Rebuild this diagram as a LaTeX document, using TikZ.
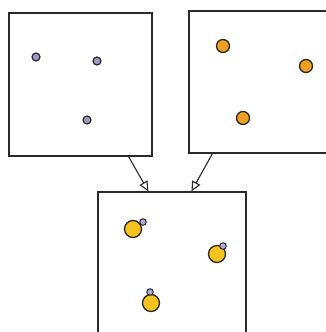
\documentclass[tikz,border=0pt]{standalone}
\usetikzlibrary{arrows.meta}
\definecolor{ink}{HTML}{2A2A2A}
\definecolor{bluedot}{HTML}{9A9AC8}
\definecolor{orangedot}{HTML}{F0A020}
\definecolor{yellowdot}{HTML}{F5C21E}
\tikzset{
  panel/.style={draw=ink, line width=1.2pt, fill=white, minimum width=#1, inner sep=0pt, rectangle},
  small/.style={circle, draw=ink, line width=1.2pt, fill=bluedot, minimum size=8pt, inner sep=0pt},
  big/.style={circle, draw=ink, line width=1.3pt, fill=orangedot, minimum size=13pt, inner sep=0pt},
  ball/.style={circle, draw=ink, line width=1.3pt, fill=yellowdot, minimum size=17pt, inner sep=0pt},
  tiny/.style={circle, draw=ink, line width=1pt, fill=bluedot!80, minimum size=6.5pt, inner sep=0pt},
  arr/.style={draw=ink, line width=1.1pt, -{Triangle[open, length=10pt, width=9pt]}}
}
\begin{document}
\begin{tikzpicture}[x=1pt,y=-1pt]
\useasboundingbox (0,0) rectangle (326,332);
\begin{scope}
\clip (0,0) rectangle (326,332);
\node[panel=143pt, minimum height=143pt] (L) at (80.5,84.5) {};
\node[panel=148pt, minimum height=142pt] (R) at (263,82) {};
\node[panel=148pt, minimum height=150pt] (B) at (172,267) {};
\end{scope}
% left panel dots
\node[small] (l1) at (36,57) {};
\node[small] (l2) at (97,61) {};
\node[small] (l3) at (87,120) {};
% right panel dots
\node[big] (r1) at (223,46) {};
\node[big] (r2) at (306,66) {};
\node[big] (r3) at (243,118) {};
% bottom panel
\node[ball] (b1) at (133,229) {};
\node[ball] (b2) at (217,254) {};
\node[ball] (b3) at (151,303) {};
\node[tiny] (t1) at (143,222) {};
\node[tiny] (t2) at (223,246) {};
\node[tiny] (t3) at (150,292) {};
% arrows
\draw[arr] ([xshift=-24pt]L.south east) -- ([xshift=51pt]B.north west);
\draw[arr] ([xshift=24pt]R.south west) -- ([xshift=94pt]B.north west);
\end{tikzpicture}
\end{document}
